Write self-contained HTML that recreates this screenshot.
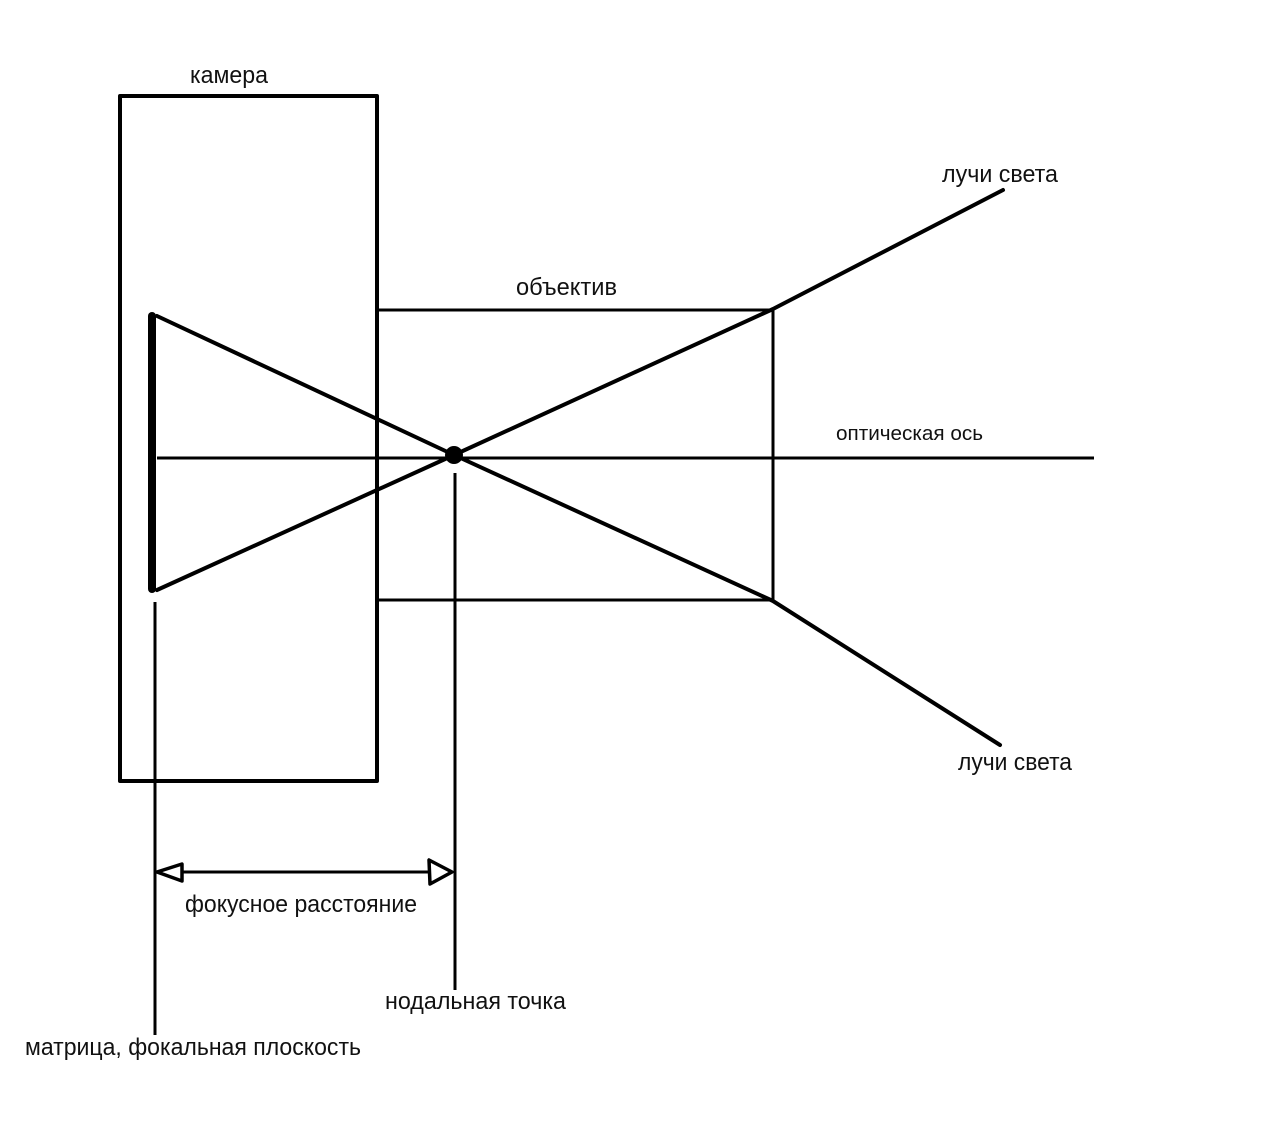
<!DOCTYPE html>
<html>
<head>
<meta charset="utf-8">
<style>
  html, body { margin: 0; padding: 0; background: #fff; }
  body { width: 1280px; height: 1138px; overflow: hidden; }
  svg { display: block; }
  text { font-family: "Liberation Sans", "DejaVu Sans", sans-serif; fill: #111; }
</style>
</head>
<body>
<svg width="1280" height="1138" viewBox="0 0 1280 1138" xmlns="http://www.w3.org/2000/svg">
  <rect x="0" y="0" width="1280" height="1138" fill="#fff"/>

  <!-- camera body -->
  <rect x="120" y="96" width="257" height="685" fill="none" stroke="#000" stroke-width="4" stroke-linejoin="round"/>

  <!-- lens -->
  <polyline points="377,310 773,310 773,600 377,600" fill="none" stroke="#000" stroke-width="3"/>

  <!-- optical axis -->
  <line x1="157" y1="458" x2="1094" y2="458" stroke="#000" stroke-width="3"/>

  <!-- rays -->
  <polyline points="157,316 454,455 773,601 1000,745" fill="none" stroke="#000" stroke-width="4" stroke-linecap="round" stroke-linejoin="round"/>
  <polyline points="157,590 454,455 773,309 1003,190" fill="none" stroke="#000" stroke-width="4" stroke-linecap="round" stroke-linejoin="round"/>

  <!-- sensor -->
  <line x1="152" y1="316" x2="152" y2="589" stroke="#000" stroke-width="8" stroke-linecap="round"/>

  <!-- nodal point -->
  <circle cx="454" cy="455" r="9" fill="#000"/>

  <!-- vertical reference lines -->
  <line x1="155" y1="602" x2="155" y2="1035" stroke="#000" stroke-width="3"/>
  <line x1="455" y1="473" x2="455" y2="990" stroke="#000" stroke-width="3"/>

  <!-- focal length dimension -->
  <line x1="157" y1="872" x2="453" y2="872" stroke="#000" stroke-width="3"/>
  <polygon points="157,872 182,864 182,881" fill="#fff" stroke="#000" stroke-width="3.5" stroke-linejoin="round"/>
  <polygon points="452,872 429,860 430,884" fill="#fff" stroke="#000" stroke-width="3.5" stroke-linejoin="round"/>

  <!-- labels -->
  <text x="190" y="83" font-size="24" textLength="78" lengthAdjust="spacingAndGlyphs">камера</text>
  <text x="516" y="295" font-size="24" textLength="101" lengthAdjust="spacingAndGlyphs">объектив</text>
  <text x="942" y="182" font-size="24" textLength="116" lengthAdjust="spacingAndGlyphs">лучи света</text>
  <text x="836" y="440" font-size="20" textLength="147" lengthAdjust="spacingAndGlyphs">оптическая ось</text>
  <text x="958" y="770" font-size="24" textLength="114" lengthAdjust="spacingAndGlyphs">лучи света</text>
  <text x="185" y="912" font-size="24" textLength="232" lengthAdjust="spacingAndGlyphs">фокусное расстояние</text>
  <text x="385" y="1009" font-size="24" textLength="181" lengthAdjust="spacingAndGlyphs">нодальная точка</text>
  <text x="25" y="1055" font-size="24" textLength="336" lengthAdjust="spacingAndGlyphs">матрица, фокальная плоскость</text>
</svg>
</body>
</html>
